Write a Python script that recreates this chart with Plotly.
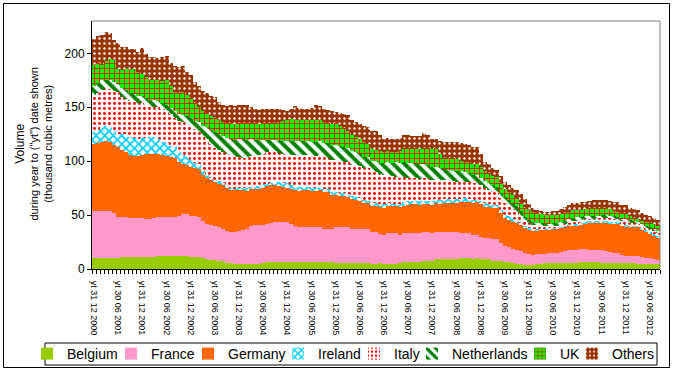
import plotly.graph_objects as go

tick_labels = ["yt 31 12 2000", "yt 30 06 2001", "yt 31 12 2001", "yt 30 06 2002",
               "yt 31 12 2002", "yt 30 06 2003", "yt 31 12 2003", "yt 30 06 2004",
               "yt 31 12 2004", "yt 30 06 2005", "yt 31 12 2005", "yt 30 06 2006",
               "yt 31 12 2006", "yt 30 06 2007", "yt 31 12 2007", "yt 30 06 2008",
               "yt 31 12 2008", "yt 30 06 2009", "yt 31 12 2009", "yt 30 06 2010",
               "yt 31 12 2010", "yt 30 06 2011", "yt 31 12 2011", "yt 30 06 2012"]

belgium = [10, 10, 10.2, 10.3, 10.5, 10.5, 10.6, 10.7, 10.8, 11, 11, 11.1,
           11.3, 11.3, 11.5, 11.5, 11.7, 11.8, 12, 12, 12, 12, 12, 11.8,
           11.5, 11.2, 11, 10.3, 9.5, 8.8, 8, 7.5, 7, 6, 5.2, 4.8,
           4.6, 4.6, 4.6, 4.6, 4.6, 5, 5.5, 6.2, 6.8, 6.8, 6.8, 6.8,
           6.8, 6.8, 6.8, 6.8, 6.8, 6.8, 6.8, 6.8, 6.8, 6.5, 6.2, 6.2,
           5.2, 5.2, 5.2, 5.2, 5.2, 5.2, 5.2, 5.2, 5.2, 4.3, 4.3, 5.2,
           4.5, 4.3, 4.3, 4.3, 5.5, 6.8, 6.8, 6.8, 6.8, 6.8, 7.4, 7.4,
           7.4, 9, 9, 9.3, 9.3, 9.3, 9.3, 10.2, 10.2, 10.2, 9.3, 9.9,
           9.5, 9, 9, 7.4, 7.4, 7, 6.8, 6.8, 5.5, 4.6, 4.6, 3.7,
           3.7, 3.7, 4.5, 5, 5.2, 5.2, 5.2, 5.2, 5.5, 5.8, 5.8, 6,
           6, 6.2, 6.2, 6.2, 6.2, 6.2, 6, 6, 6, 5.8, 5.8, 5.8,
           5.8, 5.5, 5.2, 5, 4.5, 4.3, 4.3, 4.3, 4.3]

france = [43.7, 43.5, 43.7, 43.8, 43.5, 41, 37.8, 37.7, 37.5, 36.5, 36, 35.8,
          35.7, 35, 34.5, 35.5, 36.8, 36.7, 36.5, 36.5, 36.5, 37.5, 39, 39,
          37.5, 37.5, 37.5, 34, 32.5, 32, 32, 31, 30, 29.5, 29.4, 29.6,
          30.4, 31.5, 32.4, 35, 36.1, 35.5, 35.5, 35.5, 35.5, 37, 37, 37,
          37, 35, 33.2, 32.2, 32.2, 32.2, 32.2, 32.2, 32.2, 30.8, 30.8, 30.8,
          33.8, 33.8, 33.8, 33.8, 31.8, 31.8, 31.8, 31.8, 31.8, 29.7, 29.7, 27,
          27, 28.7, 28.7, 28.7, 26.2, 26.2, 26.5, 26.8, 26.8, 26.6, 26.6, 26.5,
          26, 25.6, 25.3, 25.3, 25, 24.7, 24.7, 23.5, 22.8, 22.8, 22, 21.6,
          20.5, 20, 20, 20.6, 20.6, 17, 14.2, 13.5, 13, 13, 12, 11.3,
          10, 9.5, 9, 8.8, 8.8, 9.2, 9.5, 9.8, 10.5, 11.2, 11.5, 12,
          12, 12, 12, 11.8, 11.5, 11.3, 11.2, 11, 10, 9.5, 8.7, 7,
          6.2, 6.5, 7, 7, 6.5, 5.7, 5.7, 5, 4.2]

germany = [62, 63, 64, 64.5, 64, 63.5, 64.5, 62, 60.1, 58, 57.6, 58,
           59, 60, 61, 60, 58.5, 57, 56.1, 55, 54, 50, 46.8, 46,
           45.7, 45, 44.5, 43, 42, 41.5, 41, 41, 41, 40, 39.4, 39,
           39, 37.5, 36, 34.5, 33.3, 33.5, 34, 35, 35.7, 34.5, 33.2, 32,
           30.9, 32, 33, 33.5, 34, 34, 33.5, 33.5, 34, 34, 34, 32,
           29.5, 29, 28.5, 28, 27.5, 27, 26, 24.4, 24.4, 24.3, 24.3, 25,
           25.5, 25.5, 25.6, 25.6, 25.6, 25.6, 26, 26.4, 26.4, 26.2, 26, 26,
           26.2, 26.2, 26.2, 26.2, 26.8, 27.4, 27.4, 28.5, 29.3, 29.5, 30, 30.5,
           30, 28.5, 28.5, 29, 29, 27.5, 26, 25.5, 25, 24.7, 24, 23.6,
           23.2, 22.8, 22.5, 22.5, 22.5, 22.5, 22.6, 22.6, 22.5, 22.5, 22.6, 22.7,
           22.7, 23.5, 24.1, 24.8, 25.3, 25.7, 26, 26.2, 26.5, 27, 27.5, 27.3,
           27, 27, 27, 27, 25.5, 24.6, 23, 21.5, 19.9]

ireland = [11.3, 12.5, 13.8, 13.8, 13.8, 14, 12.6, 14.5, 17, 17, 17, 16,
           15.6, 15.5, 15.5, 15, 14, 12.5, 11.8, 11, 10.5, 9, 8.2, 7,
           6.3, 5, 4, 3.5, 3, 2.5, 2, 1.8, 1.5, 1.5, 1.5, 1.2,
           1, 1.2, 1.7, 2.3, 3, 3.2, 3.5, 2.5, 2, 3, 4, 4.3,
           4.6, 4.3, 4, 3.5, 3.3, 3.2, 3, 3, 3, 3, 3, 2.8,
           2.5, 2.7, 3, 3, 3, 3, 2.7, 2.5, 2.5, 2.5, 2.5, 3,
           3.2, 2.5, 1.6, 1.6, 3, 3.7, 3.5, 3.3, 3.3, 3.3, 3.3, 3.5,
           3.7, 3.7, 3.7, 3.7, 3.4, 3.1, 3.1, 3.1, 3.1, 2.8, 2.6, 2.5,
           3, 3.5, 3, 2.5, 2.3, 3, 3.5, 3, 2.7, 2.7, 2, 1.4,
           1.2, 1, 1, 1, 1, 1, 0.9, 0.9, 1, 1, 1.2, 1.3,
           1.3, 1.2, 1.2, 1.3, 1.3, 1.3, 1.3, 1.3, 1.4, 1.5, 1.5, 1.5,
           1.5, 1.2, 1, 1, 1.2, 1.4, 1.6, 1.8, 2.1]

italy = [34, 34.5, 34.7, 34.7, 34.7, 36, 38.4, 35, 32.4, 33.5, 34.4, 33.5,
         32.4, 30, 27.5, 28.5, 29, 30, 30.6, 29, 27, 28.5, 30, 31,
         32, 31, 30, 32, 34, 31, 29, 29, 29, 29.5, 30.1, 29.5,
         29, 28.5, 27.8, 28, 28, 28.3, 28.5, 29.5, 30, 28.5, 27, 27,
         26.7, 27.5, 28.5, 29, 29.2, 29.4, 29.5, 29.5, 29.5, 29.4, 29.4, 29.7,
         30, 29.5, 29.2, 29, 29, 29.3, 29.5, 30.1, 30, 29.6, 29.2, 28,
         26.8, 26.3, 25.8, 25.3, 24.2, 23.2, 22, 21, 20.7, 20.7, 20.7, 20,
         19.2, 18.5, 18.2, 17.9, 17.5, 17, 16.5, 16, 15.6, 15.5, 15.5, 15.5,
         14.5, 13.7, 13, 12.3, 11.7, 11.3, 11, 10, 9, 8, 6.5, 5,
         4.5, 4, 3.5, 2.8, 2.2, 2, 1.7, 1.5, 1.5, 1.5, 2, 2.3,
         2.5, 2.5, 2.5, 2.5, 2.5, 2.5, 2.7, 3, 3, 2.7, 2.5, 2.7,
         3, 2.5, 2.2, 2, 2, 2, 2.2, 2.4, 2.5]

netherlands = [9, 9, 8.5, 8.5, 8.5, 8.5, 8, 8, 8, 7, 6, 6,
               6, 6.5, 7, 6.5, 6, 5.5, 5, 6, 7, 7, 7, 7,
               7, 8, 9, 10, 11, 13, 15, 15, 15, 15, 15.4, 16,
               17, 17.5, 17.5, 16, 15, 14, 13, 11, 9.5, 10, 11, 12,
               13, 13.5, 13.5, 13.5, 13.4, 13.4, 13.2, 13, 13, 13.3, 13.6, 13.8,
               14, 13.5, 13.3, 13, 12.6, 12.3, 11, 10, 10, 10, 10, 10.5,
               11, 11.5, 12.5, 13.5, 13.5, 13.5, 13.6, 13.8, 13.8, 13.8, 13.8, 13,
               12.5, 12, 11.2, 10.6, 10, 9.5, 9.5, 9.2, 9, 8.5, 7.7, 7,
               7, 7, 6.5, 5.7, 5, 5, 5, 5, 5, 5, 4.3, 3.5,
               3, 2.8, 2.5, 2.4, 2.3, 2.3, 2.4, 2.5, 2.8, 3, 3.2, 3.4,
               3.5, 3.2, 3, 2.8, 2.6, 2.5, 2.5, 2.5, 2.5, 2.5, 2.5, 2.5,
               2.5, 2.3, 2.2, 2, 2, 2, 2, 2, 2]

uk = [19, 19, 14, 17, 20, 20, 14, 17, 19.8, 22, 23.8, 22,
      21, 19.5, 18, 18.5, 19, 21, 23, 20, 17, 19, 21, 20,
      19, 16, 14, 13.5, 13, 13, 13, 13, 13, 13.5, 14, 14,
      14, 14.5, 15, 15, 15, 15, 15, 15.3, 15.5, 16, 17, 18,
      19.6, 19.6, 19.6, 19.6, 19.6, 19.6, 20, 20.6, 20, 19, 18, 19,
      20, 19, 17.5, 16, 15, 13.9, 14, 14, 12, 11, 10, 10.3,
      10.6, 10.3, 10, 9.6, 11, 13, 13.5, 14.2, 14.2, 14.2, 14.2, 15.5,
      16, 17, 13, 9.7, 10.5, 11.7, 11.7, 10, 9, 10, 10.5, 11,
      10, 9, 9, 9, 9, 8.5, 8, 8, 8, 8, 8.2, 8.5,
      8.7, 9, 9, 8.5, 8, 8, 8, 8, 7.5, 7, 7, 6.8,
      6.6, 6.5, 6.5, 7, 7.3, 7.5, 7.2, 7, 6, 5, 4.5, 5,
      5.5, 4, 3, 2.5, 3, 4, 4.5, 5, 5]

others = [24.6, 24.6, 27.7, 27, 24, 19, 24, 21, 20.2, 19, 17.9, 19,
          24, 22, 21.6, 21, 21, 22, 23, 22, 24, 24, 24, 21,
          20.6, 20, 20, 19, 18, 19, 19.6, 17, 16, 16.5, 17, 17,
          17, 17, 17, 15, 13, 13, 13, 13, 13, 12.5, 12, 10,
          8.4, 10, 12.4, 11, 10, 9.4, 11, 13.2, 13, 12.5, 12.6, 12,
          11, 12, 13.5, 15, 14, 13.5, 14, 15, 16, 17, 18, 15,
          12.4, 12.4, 12.4, 12.4, 12.5, 12.6, 12, 11, 11, 12, 14, 12,
          10, 9, 12, 15.3, 15.3, 15.3, 15.3, 16, 17, 16, 15.5, 15,
          12, 9, 8, 7.5, 7, 6.5, 6, 6.5, 7, 7, 7.5, 8,
          6, 4, 3, 3, 3, 3, 3.5, 3.5, 4.5, 5.7, 6, 6.5,
          6.8, 6.6, 6.5, 6.8, 7, 7, 7, 7, 7.5, 8, 9, 8,
          7.5, 8, 8.5, 8.5, 7, 6, 5.5, 5.4, 5.4]

months = list(range(len(belgium)))
label_positions = [i * 6 for i in range(len(tick_labels))]

series = [
    ("Belgium", belgium, dict(color="#99CC00")),
    ("France", france, dict(color="#FF99CC")),
    ("Germany", germany, dict(color="#FF6600")),
    ("Ireland", ireland, dict(color="#00CCFF", pattern=dict(shape="x", fgcolor="#00CCFF", bgcolor="white", size=6, solidity=0.5, fillmode="replace"))),
    ("Italy", italy, dict(color="#FF0000", pattern=dict(shape=".", fgcolor="#FF0000", bgcolor="white", size=5, solidity=0.28, fillmode="replace"))),
    ("Netherlands", netherlands, dict(color="#008000", pattern=dict(shape="\\", fgcolor="#008000", bgcolor="white", size=8, solidity=0.5, fillmode="replace"))),
    ("UK", uk, dict(color="#00FF00", pattern=dict(shape="+", fgcolor="#FF0000", bgcolor="#00FF00", size=5, solidity=0.3, fillmode="replace"))),
    ("Others", others, dict(color="#993300", pattern=dict(shape=".", fgcolor="white", bgcolor="#993300", size=5, solidity=0.18, fillmode="replace"))),
]

W0, PW, T0, PH = 92, 568, 21, 248
text_px = [69, 153, 230, 320, 396, 454, 562, 614]

fig = go.Figure()
for i, (name, vals, mk) in enumerate(series):
    mk = dict(mk)
    mk["line"] = dict(width=0)
    fig.add_trace(go.Bar(x=months, y=vals, name=name, marker=mk,
                         legend="legend" if i == 0 else f"legend{i+1}"))

layout_legends = {}
for i, tp in enumerate(text_px):
    key = "legend" if i == 0 else f"legend{i+1}"
    layout_legends[key] = dict(
        x=(tp - 42 - W0) / PW, xanchor="left",
        y=(T0 + PH - 354) / PH, yanchor="middle",
        orientation="h", bgcolor="rgba(0,0,0,0)", borderwidth=0,
        font=dict(family="Arial", size=14, color="black"), itemwidth=30,
    )


def px_x(p):
    return (p - W0) / PW


def px_y(p):
    return (T0 + PH - p) / PH


fig.update_layout(
    width=673, height=371,
    margin=dict(l=92, r=13, t=21, b=102, autoexpand=False),
    paper_bgcolor="white", plot_bgcolor="white",
    barmode="stack", bargap=0,
    font=dict(family="Arial", color="black"),
    xaxis=dict(range=[-0.5, len(months) - 0.5], tickmode="array",
               tickvals=label_positions, ticktext=tick_labels, tickangle=90,
               ticks="outside", ticklen=9, tickcolor="rgba(0,0,0,0)",
               showline=True, linecolor="black", linewidth=1,
               showgrid=False, zeroline=False,
               tickfont=dict(family="Arial", size=9, color="black"),
               minor=dict(ticks="outside", ticklen=4, tickcolor="black",
                          tick0=-0.5, dtick=1, showgrid=False)),
    yaxis=dict(range=[0, 230], tickvals=[0, 50, 100, 150, 200],
               ticks="outside", ticklen=4, tickcolor="black",
               showline=True, linecolor="black", linewidth=1,
               showgrid=False, zeroline=False,
               tickfont=dict(family="Arial", size=12, color="black")),
    showlegend=True,
    **layout_legends,
    shapes=[
        dict(type="line", xref="paper", yref="paper", x0=0, x1=1, y0=1, y1=1,
             line=dict(color="#808080", width=1)),
        dict(type="line", xref="paper", yref="paper", x0=1, x1=1, y0=0, y1=1,
             line=dict(color="#808080", width=1)),
        dict(type="rect", xref="paper", yref="paper",
             x0=px_x(45), x1=px_x(657), y0=px_y(365), y1=px_y(343),
             line=dict(color="black", width=1)),
        dict(type="rect", xref="paper", yref="paper",
             x0=px_x(3.5), x1=px_x(669.5), y0=px_y(367.5), y1=px_y(3.5),
             line=dict(color="black", width=1)),
    ],
    annotations=[
        dict(xref="paper", yref="paper", x=px_x(33.5), y=px_y(144),
             text='<span style="font-size:12px">Volume</span><br>during year to ("yt") date shown<br>(thousand cubic metres)',
             textangle=-90, showarrow=False, xanchor="center", yanchor="middle",
             font=dict(family="Arial", size=11, color="black")),
    ],
)

fig.write_html("out.html", config={"displayModeBar": False},
               post_script="document.body.style.margin='0';document.body.style.overflow='hidden';")
